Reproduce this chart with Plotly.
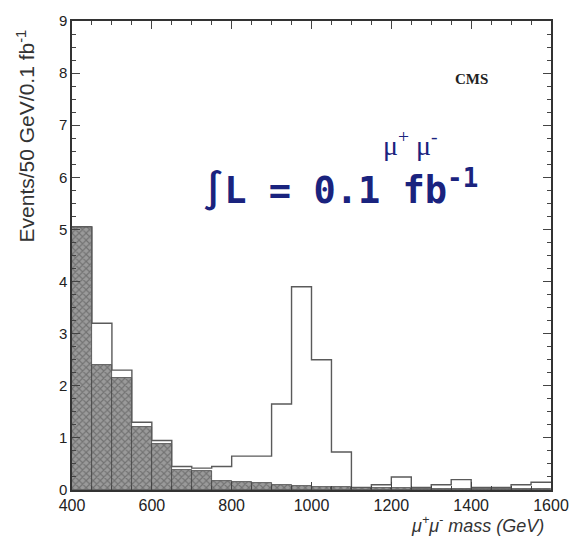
import plotly.graph_objects as go

# 50 GeV bins, lower edges (GeV)
bin_lo = [400, 450, 500, 550, 600, 650, 700, 750, 800, 850, 900, 950,
          1000, 1050, 1100, 1150, 1200, 1250, 1300, 1350, 1400, 1450, 1500, 1550]
bin_width = 50

# Drell-Yan background (shaded)
background = [5.05, 2.4, 2.15, 1.2, 0.88, 0.38, 0.36, 0.18, 0.16, 0.14, 0.1, 0.08,
              0.06, 0.05, 0.04, 0.03, 0.03, 0.02, 0.02, 0.02, 0.01, 0.01, 0.01, 0.01]

# signal + background (outline)
sig_plus_bg = [5.05, 3.2, 2.3, 1.3, 0.95, 0.45, 0.42, 0.45, 0.65, 0.65, 1.65, 3.9,
               2.5, 0.73, 0.05, 0.1, 0.25, 0.05, 0.1, 0.2, 0.05, 0.05, 0.1, 0.15]

x_ticks = [400, 600, 800, 1000, 1200, 1400, 1600]
y_ticks = [0, 1, 2, 3, 4, 5, 6, 7, 8, 9]

centers = [b + bin_width / 2 for b in bin_lo]
edges = bin_lo + [bin_lo[-1] + bin_width]
step_y = sig_plus_bg + [sig_plus_bg[-1]]

fig = go.Figure()
fig.add_trace(go.Bar(
    x=centers, y=background, width=[bin_width] * len(bin_lo),
    marker=dict(color="#9a9a9a", line=dict(color="#444444", width=0.8),
                pattern=dict(shape="x", fgcolor="#4a4a4a", size=5, solidity=0.4)),
    showlegend=False,
))
fig.add_trace(go.Scatter(
    x=edges, y=step_y, mode="lines", line=dict(color="#5a5a5a", width=1.4, shape="hv"),
    showlegend=False,
))

font_main = "Liberation Sans, Arial, sans-serif"
fig.update_layout(
    width=581, height=554,
    margin=dict(l=72, r=26, t=17, b=64),
    plot_bgcolor="white", paper_bgcolor="white",
    bargap=0,
    font=dict(family=font_main, size=15, color="#222"),
    xaxis=dict(range=[400, 1600], tickvals=x_ticks, ticks="inside", ticklen=8,
               mirror="ticks", showline=True, linecolor="#333", linewidth=1.5,
               showgrid=False, zeroline=False, tickfont=dict(size=16),
               minor=dict(ticks="inside", ticklen=4, dtick=50, showgrid=False)),
    yaxis=dict(range=[0, 9], tickvals=y_ticks, ticks="inside", ticklen=8,
               mirror="ticks", showline=True, linecolor="#333", linewidth=1.5,
               showgrid=False, zeroline=False, tickfont=dict(size=15),
               minor=dict(ticks="inside", ticklen=4, dtick=0.25, showgrid=False)),
    annotations=[
        dict(text="Events/50 GeV/0.1 fb<sup>-1</sup>", textangle=-90,
             xref="paper", yref="paper", x=-0.097, y=0.755,
             xanchor="center", yanchor="middle", showarrow=False,
             font=dict(size=21, color="#333")),
        dict(text="<i>μ<sup>+</sup>μ<sup>-</sup> mass (GeV)</i>",
             xref="paper", yref="paper", x=0.99, y=-0.045, xanchor="right", yanchor="top",
             showarrow=False, font=dict(size=18, color="#333")),
        dict(text="<b>CMS</b>", xref="paper", yref="paper", x=0.834, y=0.877,
             xanchor="center", yanchor="middle", showarrow=False,
             font=dict(family="Liberation Serif, serif", size=15, color="#222")),
        dict(text="μ<sup>+</sup> μ<sup>-</sup>", xref="paper", yref="paper",
             x=0.706, y=0.738, xanchor="center", yanchor="middle", showarrow=False,
             font=dict(family="Liberation Serif, serif", size=28, color="#1a237e")),
        dict(text="<b>∫L = 0.1 fb<sup>-1</sup></b>", xref="paper", yref="paper",
             x=0.56, y=0.645, xanchor="center", yanchor="middle", showarrow=False,
             font=dict(family="DejaVu Sans Mono, monospace", size=37, color="#1a237e")),
    ],
)

fig.write_html("out.html")
